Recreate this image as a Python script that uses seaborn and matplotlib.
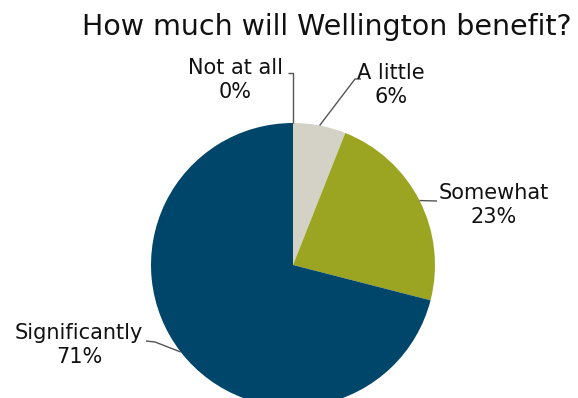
import numpy as np
import matplotlib
matplotlib.use("Agg")
import matplotlib.pyplot as plt
import seaborn as sns

categories = ["Not at all", "A little", "Somewhat", "Significantly"]
values = [0, 6, 23, 71]
pct_labels = ["0%", "6%", "23%", "71%"]
colors = ["#D4D2C6", "#D4D2C6", "#9CA522", "#00466A"]

sns.set_theme(style="white")
plt.rcParams['font.family'] = ['DejaVu Sans']

W, H = 578, 398
fig = plt.figure(figsize=(W / 100, H / 100), dpi=100)
ax = fig.add_axes([0, 0, 1, 1])

cx, cy, r = 293, H - 265, 142
ax.pie(values, colors=colors, startangle=90, counterclock=False,
       center=(cx, cy), radius=r, wedgeprops=dict(linewidth=0))
ax.set_xlim(0, W)
ax.set_ylim(0, H)
ax.set_aspect("equal")
ax.set_axis_off()

# leader lines from wedge mid-angles
cum = np.cumsum([0] + values)
mids = [(cum[i] + cum[i + 1]) / 2 for i in range(len(values))]

def edge(frac):
    ang = np.deg2rad(90 - frac / 100 * 360)
    return cx + r * np.cos(ang), cy + r * np.sin(ang)

line_kw = dict(color="#555555", lw=1, solid_capstyle="butt")
# label positions (pixel coords from top) and elbow points
label_pos = [(235, 80), (391, 85), (494, 205), (79, 345)]
elbows = [[(293, 73), (288, 73)],
          [(355, 79), (361, 79)],
          [(437, 201)],
          [(155, 342), (146, 341)]]
for i in range(4):
    ex, ey = edge(mids[i])
    pts = [(ex, ey)] + [(x, H - y) for x, y in elbows[i]]
    xs, ys = zip(*pts)
    ax.plot(xs, ys, **line_kw)
    lx, ly = label_pos[i]
    ax.text(lx, H - ly, f"{categories[i]}\n{pct_labels[i]}", ha="center", va="center",
            fontsize=15, color="#111111", linespacing=1.2)

ax.text(327, H - 27, "How much will Wellington benefit?", ha="center", va="center",
        fontsize=20.5, color="#111111")

fig.savefig("out.png", dpi=100)
